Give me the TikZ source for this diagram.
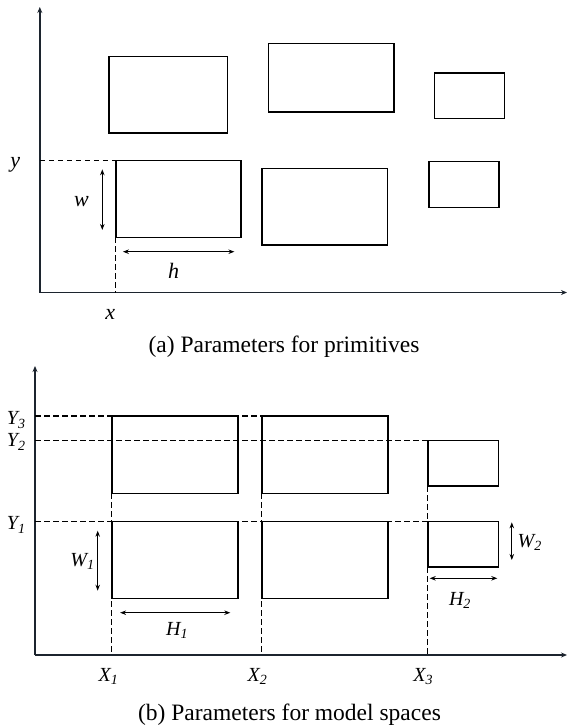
\documentclass[tikz,border=0pt]{standalone}
\usepackage{fontspec}
\setmainfont{Liberation Serif}
\usetikzlibrary{arrows.meta}
\definecolor{axiscol}{RGB}{28,36,46}
\begin{document}
\begin{tikzpicture}[x=1pt,y=-1pt,
  box/.style={draw,line width=1.5pt,inner sep=0pt,outer sep=0pt,anchor=north west},
  axisline/.style={draw=axiscol,line width=1.6pt,-{Stealth[length=6pt,width=5pt]}},
  dashline/.style={line width=1.3pt,dash pattern=on 5.5pt off 3.5pt},
  dimarrow/.style={line width=1.3pt,{Stealth[length=6pt,width=4.5pt]}-{Stealth[length=6pt,width=4.5pt]}},
  lab/.style={font=\fontsize{22}{25}\selectfont\itshape,inner sep=0pt},
  slab/.style={font=\fontsize{20}{23}\selectfont\itshape,inner sep=0pt},
  captext/.style={font=\fontsize{23.5}{27}\selectfont,inner sep=0pt}]
\useasboundingbox (0,0) rectangle (567,726);
% ---------- (a) ----------
\coordinate (oa) at (39.8,292.5);
\coordinate (ta) at (39.8,7);
\coordinate (ra) at (567,292.5);
\draw[axisline] (oa) -- (ta);
\draw[axisline] (oa) -- (ra);
\node[box,minimum width=118.7pt,minimum height=76.7pt] (a1) at (108.8,56.3) {};
\node[box,minimum width=125.5pt,minimum height=68.3pt] (a2) at (268.7,43.7) {};
\node[box,minimum width=70.2pt,minimum height=45.7pt] (a3) at (434.3,73) {};
\node[box,minimum width=125.4pt,minimum height=76.6pt] (b1) at (115.8,160.7) {};
\node[box,minimum width=125.5pt,minimum height=76.7pt] (b2) at (261.8,168.3) {};
\node[box,minimum width=70.2pt,minimum height=45.6pt] (b3) at (428.9,161.7) {};
\draw[dashline] (oa |- b1.north west) -- (b1.north west);
\draw[dashline] (b1.south west) -- (b1.south west |- oa);
\coordinate (wt) at (102.3,169.3);
\coordinate (wb) at (102.3,230);
\draw[dimarrow] (wt) -- (wb);
\coordinate (hl) at (122.9,251.7);
\coordinate (hr) at (234.4,251.7);
\draw[dimarrow] (hl) -- (hr);
\node[lab] (lw) at (81.4,201.7) {w};
\node[lab] (lh) at (173.5,271) {h};
\node[lab] (ly) at (15.2,165) {y};
\node[lab] (lx) at (110.3,314) {x};
\node[captext] (capa) at (284,347) {(a) Parameters for primitives};
% ---------- (b) ----------
\coordinate (ob) at (35,655);
\coordinate (tb) at (35,366);
\coordinate (rb) at (567,655);
\draw[axisline] (ob) -- (tb);
\draw[axisline] (ob) -- (rb);
\coordinate (y3) at (35,416);
\coordinate (y2) at (35,440.3);
\coordinate (y1) at (35,521.7);
\draw[dashline] (y3) -- (261.8,416);
\draw[dashline] (y2) -- (427.8,440.3);
\draw[dashline] (y1) -- (427.8,521.7);
\draw[dashline] (111.8,493.3) -- (111.8,655);
\draw[dashline] (261.8,493.3) -- (261.8,655);
\draw[dashline] (427.8,486) -- (427.8,655);
\node[box,minimum width=126.2pt,minimum height=77.3pt] (c1) at (111.8,416) {};
\node[box,minimum width=126.3pt,minimum height=77.3pt] (c2) at (261.8,416) {};
\node[box,minimum width=70.6pt,minimum height=45.7pt] (c3) at (427.8,440.3) {};
\node[box,minimum width=126.2pt,minimum height=77pt] (d1) at (111.8,521.7) {};
\node[box,minimum width=126.3pt,minimum height=77pt] (d2) at (261.8,521.7) {};
\node[box,minimum width=70.6pt,minimum height=45.3pt] (d3) at (427.8,521.7) {};
\coordinate (W1t) at (97.7,530.7);
\coordinate (W1b) at (97.7,590.7);
\draw[dimarrow] (W1t) -- (W1b);
\coordinate (H1l) at (120.1,612.7);
\coordinate (H1r) at (230.3,612.7);
\draw[dimarrow] (H1l) -- (H1r);
\coordinate (W2t) at (511.8,522.3);
\coordinate (W2b) at (511.8,560);
\draw[dimarrow] (W2t) -- (W2b);
\coordinate (H2l) at (429.7,578.3);
\coordinate (H2r) at (497.3,578.3);
\draw[dimarrow] (H2l) -- (H2r);
\node[slab] (lW1) at (82.5,561.7) {W\textsubscript{1}};
\node[slab] (lH1) at (177.2,630.7) {H\textsubscript{1}};
\node[slab] (lW2) at (529.8,542.7) {W\textsubscript{2}};
\node[slab] (lH2) at (460,600.7) {H\textsubscript{2}};
\node[slab] (lY3) at (16.3,420) {Y\textsubscript{3}};
\node[slab] (lY2) at (16.3,442) {Y\textsubscript{2}};
\node[slab] (lY1) at (16.3,525) {Y\textsubscript{1}};
\node[slab] (lX1) at (108.5,676.7) {X\textsubscript{1}};
\node[slab] (lX2) at (257.5,676.7) {X\textsubscript{2}};
\node[slab] (lX3) at (423.2,676.7) {X\textsubscript{3}};
\node[captext] (capb) at (289.5,715) {(b) Parameters for model spaces};
\end{tikzpicture}
\end{document}
